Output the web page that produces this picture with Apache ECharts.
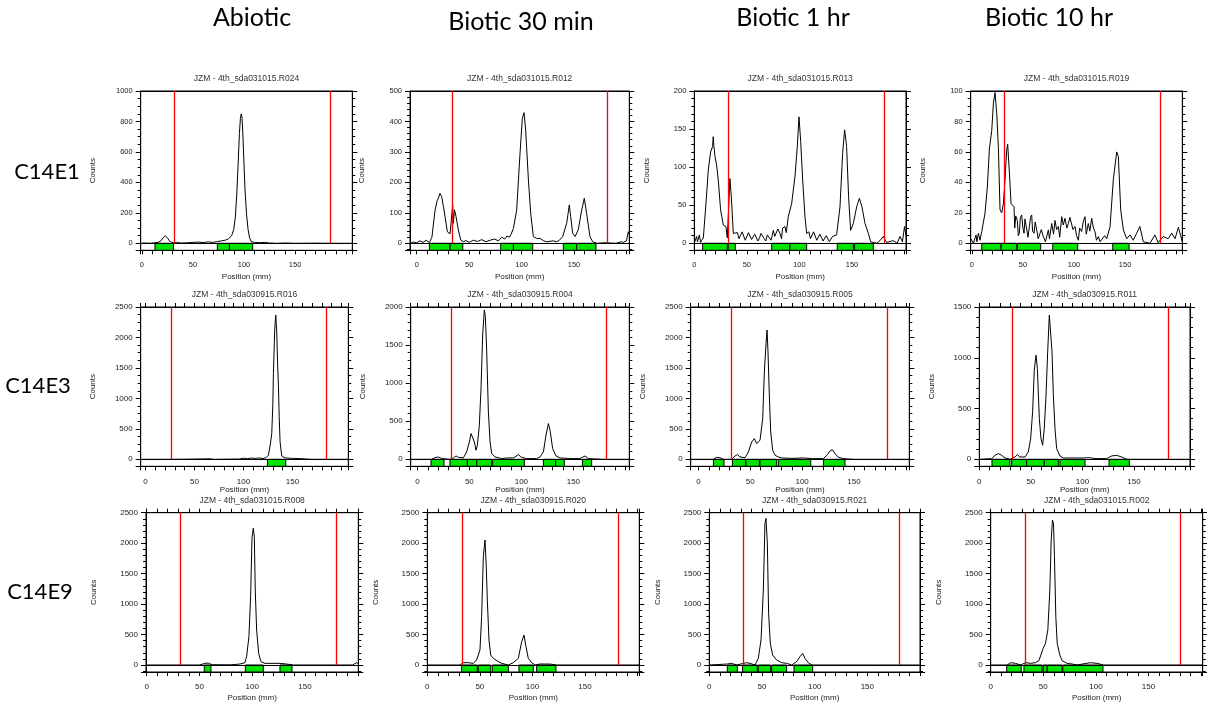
<!DOCTYPE html>
<html><head><meta charset="utf-8">
<script src="https://cdn.jsdelivr.net/npm/echarts@6/dist/echarts.min.js"></script>
<style>html,body{margin:0;padding:0;background:#fff}#c{width:1207px;height:706px}</style>
</head><body><div id="c"></div>
<script>
// ---------------- DATA ----------------
const columnHeaders = ['Abiotic', 'Biotic 30 min', 'Biotic 1 hr', 'Biotic 10 hr'];
const rowLabels = ['C14E1', 'C14E3', 'C14E9'];
const panelTitles = [
  'JZM - 4th_sda031015.R024', 'JZM - 4th_sda031015.R012', 'JZM - 4th_sda031015.R013', 'JZM - 4th_sda031015.R019',
  'JZM - 4th_sda030915.R016', 'JZM - 4th_sda030915.R004', 'JZM - 4th_sda030915.R005', 'JZM - 4th_sda030915.R011',
  'JZM - 4th_sda031015.R008', 'JZM - 4th_sda030915.R020', 'JZM - 4th_sda030915.R021', 'JZM - 4th_sda031015.R002'
];
const yMax  = [1000, 500, 200, 100, 2500, 2000, 2500, 1500, 2500, 2500, 2500, 2500];
const yStep = [200, 100, 50, 20, 500, 500, 500, 500, 500, 500, 500, 500];
const xRange = [[-1.1,206],[-6.4,202.7],[0,201.4],[-1.1,206],[-4.8,207],[-6.4,203.8],[-7.4,203.3],[0,204.3],[-0.6,200.5],[0,201.7],[0,200],[0,201.5]];

const R1C1_trace = [[-1,0],[3,2],[8,0],[12,3],[16,6],[19,18],[21,38],[23,50],[25,36],[27,16],[29,7],[31,3],[34,6],[38,2],[44,3],[50,6],[55,8],[60,5],[65,9],[70,6],[74,11],[78,16],[82,21],[85,30],[88,52],[90,92],[91.5,170],[93,330],[94.5,560],[95.5,720],[96.5,820],[97.3,850],[98,830],[99,700],[100,520],[101,350],[102.5,190],[104,90],[105.5,35],[107,12],[110,6],[115,4],[120,6],[125,2],[132,0],[140,2],[150,0],[170,1],[190,0],[206,0]];
const R1C1_bands = [[12.9,30.9],[73.9,85.7],[85.7,108.5]];
const R1C1_marks = [31.9,184.5];

const R1C2_trace = [[-6,0],[-3,4],[0,2],[3,8],[6,3],[9,10],[12,2],[14.5,20],[17.5,109],[19.5,140],[20.7,148],[22.2,164],[23.8,153],[25.5,120],[27,88],[29.2,38],[31.8,31],[33.7,33],[34.3,126],[35,66],[36,110],[37.5,88],[39.7,44],[42,11],[44.5,5],[47,9],[50,3],[54,10],[58,6],[62,12],[66,5],[70,10],[74,14],[78,8],[81,20],[84,14],[86,24],[88.5,20],[90,30],[92.2,49],[95.3,109],[98.5,295],[100.7,410],[102.3,429],[103.9,372],[106.5,208],[108.7,98],[111.2,22],[114.4,16],[117.6,16],[121,8],[124,5],[130,8],[133.5,5],[136,10],[139.2,22],[143,66],[145.5,126],[146.8,88],[148.7,33],[151,22],[154,44],[157.3,109],[159.8,148],[162,98],[165.2,22],[167.8,5],[171.6,0],[180,2],[190,0],[195,5],[197,3],[200,8],[201.8,38],[202.7,30]];
const R1C2_bands = [[12.1,31.8],[31.8,43.9],[80.1,92.2],[92.2,110.6],[139.8,152.5],[152.5,170.9]];
const R1C2_marks = [33.7,181.8];

const R1C3_trace = [[0,0],[2.2,9],[3,2],[4.8,11],[6,1],[7,4],[8.6,7],[11.1,52],[13.3,96],[15.5,120],[17.4,127],[18,140],[18.6,128],[19.7,114],[21.2,103],[22.8,83],[25,44],[27.6,24],[30.1,22],[31.4,7],[32.7,48],[33.9,85],[35.2,61],[37.1,13],[39,11],[41,14],[42.5,6],[44,8],[45.5,15],[47,13],[48.5,4],[50,6],[51.5,14],[53,12],[54.5,5],[56,4],[57.5,12],[59,10],[60.5,3],[62,7],[63.5,13],[65,12],[66.5,6],[68,3],[69.5,11],[71,9],[73,4],[75.2,17],[76.5,9],[78,10],[79.5,19],[81.5,13],[83,6],[84,20],[86.3,22],[87.5,14],[89.4,35],[92.6,52],[95.8,88],[98,127],[99.6,166],[101.2,134],[103.1,83],[105.3,35],[106.9,13],[109,15],[110.5,6],[112,8],[113.5,15],[115,13],[116.5,4],[118,5],[119.5,12],[121,11],[122.5,3],[124,4],[125.5,10],[127,9],[128.5,2],[130,3],[131.5,9],[133,7],[135.4,11],[138.6,48],[141.1,118],[143,149],[144.9,127],[146.8,61],[148.7,17],[151.3,26],[154.5,48],[157,59],[159.5,48],[162.4,26],[165.6,13],[167.8,2],[173.5,0],[176.6,3.5],[179.8,9],[183,1],[189.3,3.5],[193,0],[195.7,9],[198,2],[200,22],[201.4,10]];
const R1C3_bands = [[7.9,31.4],[32.3,39],[73.6,91],[91,106.9],[136,151.3],[152.5,170.3]];
const R1C3_marks = [32.0,180.5];

const R1C4_trace = [[-1,3],[1.6,0],[4.1,5.5],[5,1],[6.4,6.6],[8,2],[9.7,7.7],[12.9,19.7],[15.2,37],[17.2,62],[19.5,74],[21.1,92],[22.7,99],[24.4,85],[26,63],[27.6,22],[29.2,20],[30.9,26],[32.5,42],[34.1,61],[35.1,65],[36.8,46],[38.4,26],[41.3,24],[42,10],[43,18],[44.5,15],[45.5,5],[46.5,6.6],[47.5,17],[48.8,18.6],[50,10],[51.1,6.6],[52,16],[53.7,15],[55,4],[56.3,11],[57.5,17],[58.6,18.6],[59.5,8],[60.9,6.6],[62,14],[63.5,8.8],[65,3],[66.8,2],[68,9],[70,4.4],[72,1],[74.9,8.8],[76,3],[78.2,13],[80,6],[81.4,15],[83,9],[84.7,11],[86,4],[88,17.5],[89.5,12],[91.2,16.4],[93,10],[94.5,13],[96,17],[97.7,17.5],[99,9],[101,11],[102.5,5],[104.3,2],[105.5,10],[107.5,7.7],[109,14],[110.8,17.5],[112,6],[114,13],[115.5,8],[117.3,16.4],[119,10],[120.5,7.7],[122,2],[123.8,4.4],[125.5,1],[127.1,1],[130,5],[132,3],[135.3,11],[138.5,42],[141.8,60],[143.4,57],[145.7,22],[148.3,8.8],[151.6,3],[154.8,5.5],[158,2],[161.3,6.6],[164.5,11],[167.8,1],[174.3,0],[179.2,5.5],[182.4,0.4],[187.3,4.4],[192.2,3],[195.6,6.6],[198.9,3],[202.2,10.5],[206,1]];
const R1C4_bands = [[9.7,28.6],[28.6,43.9],[44.6,67.4],[79.2,103.6],[137.9,153.9]];
const R1C4_marks = [31.5,184.5];

const R2C1_trace = [[-4.8,0],[20,0],[40,2],[66,8],[70,0],[96,5],[100,18],[104,10],[108,20],[112,15],[116,22],[120,12],[123,25],[125.5,66],[127.5,250],[128.9,420],[130,900],[130.6,1409],[131.5,1900],[132,2149],[132.6,2300],[133,2368],[133.4,2250],[134,2094],[134.8,1600],[135.7,1217],[136.5,700],[137.4,285],[139.1,55],[142.5,22],[150,15],[157.8,11],[170,0],[207,0]];
const R2C1_bands = [[124.5,143.2]];
const R2C1_marks = [26.2,185];

const R2C2_trace = [[-6.4,0],[13.8,0],[17,22],[20.2,31],[23.4,9],[31.4,0],[34.6,18],[37.2,44],[39.4,26],[44.2,18],[47.4,96],[50,228],[51.6,338],[53.2,316],[54.8,228],[56.4,118],[57.7,184],[59.6,447],[61.2,930],[62.8,1632],[64.4,1961],[65.4,1873],[66.7,1412],[68.3,623],[69.9,228],[71.5,75],[74.7,31],[81.1,9],[85.9,18],[92.3,18],[97.1,61],[100.3,26],[105.1,9],[114.7,9],[117.9,31],[121.2,96],[123.7,316],[126,469],[127.6,382],[130.1,140],[133.3,44],[137.2,18],[146.8,9],[156.4,9],[161.2,44],[164.4,9],[178.8,0],[203.8,0]];
const R2C2_bands = [[13.1,25.6],[31.4,48.1],[48.1,57.1],[57.1,71.5],[72.4,102.9],[121.2,133],[133,141.3],[158.7,167.6]];
const R2C2_marks = [32.4,181.7];

const R2C3_trace = [[-7.4,0],[14.5,0],[17,27],[20.9,27],[24.1,0],[32.1,0],[35.3,55],[37.6,77],[40.2,38],[45,27],[48.2,121],[51.4,285],[54,340],[56.2,258],[59.4,312],[62,669],[63.6,1436],[65.2,1902],[66.2,2121],[67.1,1765],[68.4,1053],[69.7,450],[71.6,148],[73.9,66],[77.1,38],[80.3,22],[90,15],[101.2,22],[110,11],[120.5,11],[123.7,66],[126.9,137],[129.1,159],[131.7,93],[134.9,33],[139.7,11],[150,0],[203.3,0]];
const R2C3_bands = [[14.5,24.7],[32.8,45.9],[45.9,58.8],[59.4,75.5],[77.1,108.3],[120.5,141.3]];
const R2C3_marks = [32.1,182.1];

const R2C4_trace = [[0,0],[12,7],[15.2,39],[18.4,56],[21.7,39],[24.9,13],[29.7,0],[34.6,23],[36.9,46],[39.4,23],[44.3,23],[47.5,72],[49.8,204],[51.7,467],[53.3,878],[55,1026],[56.3,895],[58.2,401],[59.8,204],[61.4,138],[63,303],[64.7,631],[66.3,1059],[67.9,1421],[69.2,1404],[70.5,1059],[71.8,631],[73.4,303],[75,105],[78.2,33],[81.5,13],[100.9,13],[107.3,16],[112.2,7],[123.5,7],[128.4,33],[133.2,39],[138,23],[142.9,0],[204.3,0]];
const R2C4_bands = [[12.3,29.7],[31.4,45.9],[45.9,63],[63,76.6],[78.2,102.5],[125.8,145.5]];
const R2C4_marks = [32.3,183.3];

const R3C1_trace = [[-0.6,0],[50,0],[56.2,30],[57.3,38],[58.4,30],[62,5],[80,3],[88.4,16],[93.1,38],[94.7,137],[96.9,465],[98.5,1121],[99.8,2079],[101,2243],[102,2106],[102.9,1231],[104.2,574],[106.1,191],[108.3,55],[112.1,27],[116.8,27],[126.3,27],[132.6,16],[138.9,0],[195,0],[198.9,38],[200.5,20]];
const R3C1_bands = [[54.6,60.9],[93.5,110.5],[126.3,137.7]];
const R3C1_marks = [31.9,179.4];

const R3C2_trace = [[0,0],[31.1,0],[34.3,38],[39,38],[43.8,27],[46.9,82],[50.1,246],[51.7,793],[53.3,1778],[54.9,2051],[56.1,1614],[57.1,1067],[58.7,410],[60.3,164],[62.8,109],[67.6,55],[70.7,27],[77.1,0],[81.8,38],[86.6,109],[89.8,383],[92,492],[93.9,301],[96.1,109],[99.3,38],[102.4,0],[107.2,16],[116.7,16],[123.1,0],[201.7,0]];
const R3C2_bands = [[32.7,47.6],[48.5,60.3],[61.8,77.1],[87.2,100.9],[104,122.4]];
const R3C2_marks = [33.3,181.7];

const R3C3_trace = [[0,0],[17.1,16],[21.2,27],[25.9,0],[35.4,38],[38.6,27],[43.4,0],[46.5,109],[49.1,410],[51.3,1231],[52.8,2325],[53.8,2407],[55.1,2000],[56.3,848],[57.9,356],[60.1,164],[63.9,82],[68.7,38],[73.4,27],[78.2,0],[82.9,55],[86.1,137],[88.6,191],[90.8,109],[94,38],[97.2,0],[158,0],[158.9,16],[160,0],[200,0]];
const R3C3_bands = [[17.1,26.6],[31.6,45.6],[46.5,58.2],[59.2,73.4],[80.4,98.1]];
const R3C3_marks = [32.3,180.4];

const R3C4_trace = [[0,0],[15.8,0],[18.9,38],[23.7,27],[28.4,0],[33.2,38],[37.9,27],[42.6,38],[45.8,71],[49.9,274],[52.1,356],[54.3,574],[56.2,1231],[57.5,2051],[58.7,2379],[59.7,2325],[60.6,1778],[61.9,793],[63.2,356],[65.7,164],[67.9,71],[72.6,27],[77.4,16],[82.1,0],[94.7,38],[101,27],[107.4,0],[201.5,0]];
const R3C4_bands = [[15.2,29],[31.6,48.9],[49.9,53.7],[53.7,67.9],[68.5,106.7]];
const R3C4_marks = [32.8,180.3];

const traces = [R1C1_trace,R1C2_trace,R1C3_trace,R1C4_trace,R2C1_trace,R2C2_trace,R2C3_trace,R2C4_trace,R3C1_trace,R3C2_trace,R3C3_trace,R3C4_trace];
const bands  = [R1C1_bands,R1C2_bands,R1C3_bands,R1C4_bands,R2C1_bands,R2C2_bands,R2C3_bands,R2C4_bands,R3C1_bands,R3C2_bands,R3C3_bands,R3C4_bands];
const marks  = [R1C1_marks,R1C2_marks,R1C3_marks,R1C4_marks,R2C1_marks,R2C2_marks,R2C3_marks,R2C4_marks,R3C1_marks,R3C2_marks,R3C3_marks,R3C4_marks];
const minorSplits = [4,5,5,4,4,5,4,5,5,5,5,5];

// ---------------- LAYOUT ----------------
const FONT = '"Liberation Sans", Arial, sans-serif';
const HEAD_FONT = 'Lato, "Open Sans", sans-serif';
const STRIP_RATIO = 0.046;
const PANEL_H = 159.3;
const layout = [
  {x:140.7,w:211.6,y:91},{x:410,w:219.3,y:91},{x:694.3,w:211.7,y:91},{x:970.7,w:211.6,y:91},
  {x:140.7,w:207.6,y:307},{x:410.7,w:218.6,y:307},{x:690.7,w:218.6,y:307},{x:979.3,w:210.7,y:307},
  {x:146,w:212.3,y:512.7},{x:427.3,w:212,y:512.7},{x:709.3,w:210.7,y:512.7},{x:990.7,w:212,y:512.7}
];
const rowStyle = [
  {fs:7.5, topTicks:false, yGap:44, titleDy:-12.7},
  {fs:8, topTicks:true, yGap:44, titleDy:-12},
  {fs:8, topTicks:true, yGap:48, titleDy:-12}
];
const headerPos = [[252,18],[521,22],[793,18],[1049,18]];
const rowLabelPos = [[47,172],[38,386],[40,592]];

const fmtX = v => (v >= -1e-6 && v < 199 && Math.abs(v % 50) < 1e-6) ? String(Math.round(v)) : '';
const fmtY = v => (v >= -1e-6) ? String(Math.round(v)) : '';

const option = {animation:false, backgroundColor:'#fff', grid:[], xAxis:[], yAxis:[], series:[], graphic:[]};

layout.forEach((L, i) => {
  const row = Math.floor(i / 4);
  const rs = rowStyle[row];
  const ymax = yMax[i], ymin = -STRIP_RATIO * ymax;
  const [xmin, xmax] = xRange[i];
  const txt = {fontFamily:FONT, fontSize:rs.fs, color:'#222'};
  option.grid.push({left:L.x, top:L.y, width:L.w, height:PANEL_H, show:true, borderColor:'#000', borderWidth:1,
    backgroundColor:'transparent', containLabel:false, outerBoundsMode:'none'});
  const line = {show:true, onZero:false, lineStyle:{color:'#000', width:1}};
  option.xAxis.push({type:'value', gridIndex:i, position:'bottom', min:xmin, max:xmax,
    splitNumber:20, minInterval:10, maxInterval:10, axisLine:line,
    axisTick:{show:true, inside:false, length:4, lineStyle:{color:'#000', width:1}},
    axisLabel:Object.assign({show:true, margin:11, formatter:fmtX, showMinLabel:true, showMaxLabel:true}, txt),
    splitLine:{show:false}, name:'Position (mm)', nameLocation:'middle', nameGap:row===1?19:22,
    nameTextStyle:Object.assign({}, txt, {fontSize:8})});
  option.xAxis.push({type:'value', gridIndex:i, position:'top', min:xmin, max:xmax,
    splitNumber:20, minInterval:10, maxInterval:10, axisLine:line,
    axisTick:{show:rs.topTicks, inside:false, length:4, lineStyle:{color:'#000', width:1}},
    axisLabel:{show:false}, splitLine:{show:false}});
  option.yAxis.push({type:'value', gridIndex:i, position:'left', min:ymin, max:ymax,
    splitNumber:ymax / yStep[i], minInterval:yStep[i], maxInterval:yStep[i], axisLine:line,
    axisTick:{show:true, inside:false, length:5, lineStyle:{color:'#000', width:1}},
    minorTick:{show:true, splitNumber:minorSplits[i], length:3, lineStyle:{color:'#000', width:1}},
    axisLabel:Object.assign({show:true, margin:8, formatter:fmtY}, txt),
    splitLine:{show:false}, minorSplitLine:{show:false},
    name:'Counts', nameLocation:'middle', nameGap:rs.yGap, nameRotate:90,
    nameTextStyle:Object.assign({}, txt, {fontSize:8})});
  option.yAxis.push({type:'value', gridIndex:i, position:'right', min:ymin, max:ymax,
    splitNumber:ymax / yStep[i], minInterval:yStep[i], maxInterval:yStep[i], axisLine:line,
    axisTick:{show:true, inside:false, length:5, lineStyle:{color:'#000', width:1}},
    minorTick:{show:true, splitNumber:minorSplits[i], length:3, lineStyle:{color:'#000', width:1}},
    axisLabel:{show:false}, splitLine:{show:false}, minorSplitLine:{show:false}});

  // green integration bands (below zero) and zero baseline
  option.series.push({
    type:'line', xAxisIndex:2*i, yAxisIndex:2*i, data:[], silent:true, z:2,
    markArea:{silent:true, itemStyle:{color:'#00e400', borderColor:'#000', borderWidth:1},
      data:bands[i].map(b => [{coord:[b[0], 0]}, {coord:[b[1], ymin]}])},
    markLine:{silent:true, symbol:['none','none'], label:{show:false}, animation:false,
      lineStyle:{color:'#000', width:1, type:'solid'},
      data:[[{coord:[xmin, 0]}, {coord:[xmax, 0]}]]}
  });
  // red origin / front lines
  option.series.push({
    type:'line', xAxisIndex:2*i, yAxisIndex:2*i, data:[], silent:true, z:3,
    markLine:{silent:true, symbol:['none','none'], label:{show:false}, animation:false,
      lineStyle:{color:'#ff0000', width:1.3, type:'solid', opacity:1},
      emphasis:{disabled:true},
      data:marks[i].map(m => [{coord:[m, 0]}, {coord:[m, ymax]}])}
  });
  // radioactivity trace
  option.series.push({
    type:'line', xAxisIndex:2*i, yAxisIndex:2*i, data:traces[i], showSymbol:false, symbol:'none',
    lineStyle:{color:'#000', width:1}, silent:true, z:4
  });
  option.graphic.push({type:'text', x:L.x + L.w/2, y:L.y + rs.titleDy, silent:true,
    style:{text:panelTitles[i], font:'8.5px ' + FONT, fill:'#333', align:'center', verticalAlign:'middle',
      textAlign:'center', textVerticalAlign:'middle'}});
});

columnHeaders.forEach((t, c) => {
  option.graphic.push({type:'text', x:headerPos[c][0], y:headerPos[c][1], silent:true,
    style:{text:t, font:'25px ' + HEAD_FONT, fill:'#000', align:'center', verticalAlign:'middle',
      textAlign:'center', textVerticalAlign:'middle'}});
});
rowLabels.forEach((t, r) => {
  option.graphic.push({type:'text', x:rowLabelPos[r][0], y:rowLabelPos[r][1], silent:true,
    style:{text:t, font:'22px ' + HEAD_FONT, fill:'#000', align:'center', verticalAlign:'middle',
      textAlign:'center', textVerticalAlign:'middle'}});
});

const chart = echarts.init(document.getElementById('c'), null, {renderer:'canvas'});
chart.setOption(option);
</script></body></html>
